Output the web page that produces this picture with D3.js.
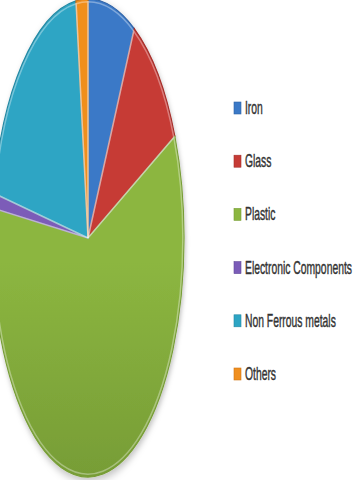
<!DOCTYPE html>
<html>
<head>
<meta charset="utf-8">
<script src="https://cdn.jsdelivr.net/npm/d3@7"></script>
<style>
  html, body { margin: 0; padding: 0; background: #fff; }
  svg { display: block; }
</style>
</head>
<body>
<svg width="354" height="480" viewBox="0 0 354 480"></svg>
<script>
let categories = ['Iron', 'Glass', 'Plastic', 'Electronic Components', 'Non Ferrous metals', 'Others'];
let values = [8, 10, 59, 1, 20, 2];
let colors = ['#3b79c7', '#c63b36', '#8cb640', '#7b5cb8', '#2da5c4', '#f08f1f'];
let darkColors = ['#2e62a6', '#a52f2b', '#779d36', '#634a99', '#2388a3', '#cf7515'];

let svg = d3.select('svg');

/* pie is drawn as a circle stretched into an ellipse */
let center = [88, 238];
let rx = 96, ry = 239;
let r = 100;

let defs = svg.append('defs');
colors.forEach(function(c, i) {
  let g = defs.append('linearGradient')
    .attr('id', 'grad' + i)
    .attr('gradientUnits', 'userSpaceOnUse')
    .attr('x1', 0).attr('y1', -r).attr('x2', 0).attr('y2', r);
  g.append('stop').attr('offset', '0%').attr('stop-color', c);
  g.append('stop').attr('offset', '55%').attr('stop-color', c);
  g.append('stop').attr('offset', '100%').attr('stop-color', darkColors[i]);
});

let filter = defs.append('filter').attr('id', 'shadow')
  .attr('x', '-20%').attr('y', '-20%').attr('width', '140%').attr('height', '140%');
filter.append('feDropShadow').attr('dx', 1).attr('dy', 1.5).attr('stdDeviation', 2)
  .attr('flood-color', '#000').attr('flood-opacity', 0.25);

let pie = d3.pie().sort(null).value(function(d) { return d; });
let arc = d3.arc().innerRadius(0).outerRadius(r);
let arcs = pie(values);

let pieG = svg.append('g')
  .attr('transform', 'translate(' + center[0] + ',' + center[1] + ') scale(' + (rx / r) + ',' + (ry / r) + ')')
  .attr('filter', 'url(#shadow)');

pieG.selectAll('path.slice').data(arcs).enter().append('path')
  .attr('class', 'slice')
  .attr('d', arc)
  .attr('fill', function(d, i) { return 'url(#grad' + i + ')'; })
  .attr('stroke', function(d, i) { return darkColors[i]; })
  .attr('stroke-width', 1.2)
  .attr('vector-effect', 'non-scaling-stroke');

/* thin light bevel along slice edges */
let innerArc = d3.arc().innerRadius(0).outerRadius(r - 1.2);
pieG.selectAll('path.bevel').data(arcs).enter().append('path')
  .attr('class', 'bevel')
  .attr('d', innerArc)
  .attr('fill', 'none')
  .attr('stroke', 'rgba(255,255,255,0.35)')
  .attr('stroke-width', 1.5)
  .attr('vector-effect', 'non-scaling-stroke');

/* legend */
let legendY = d3.scalePoint().domain(categories).range([108, 374]);
let legend = svg.append('g');
let rows = legend.selectAll('g').data(categories).enter().append('g')
  .attr('transform', function(d) { return 'translate(234,' + legendY(d) + ')'; });

rows.append('rect')
  .attr('x', 0).attr('y', -6)
  .attr('width', 7).attr('height', 12)
  .attr('fill', function(d, i) { return colors[i]; })
  .attr('stroke', function(d, i) { return darkColors[i]; })
  .attr('stroke-width', 0.6);

rows.append('text')
  .attr('transform', 'translate(11,6) scale(0.69,1.2)')
  .attr('font-family', 'Liberation Sans, Arial, sans-serif')
  .attr('font-size', 15)
  .attr('fill', '#333')
  .attr('stroke', '#333')
  .attr('stroke-width', 0.35)
  .text(function(d) { return d; });
</script>
</body>
</html>
